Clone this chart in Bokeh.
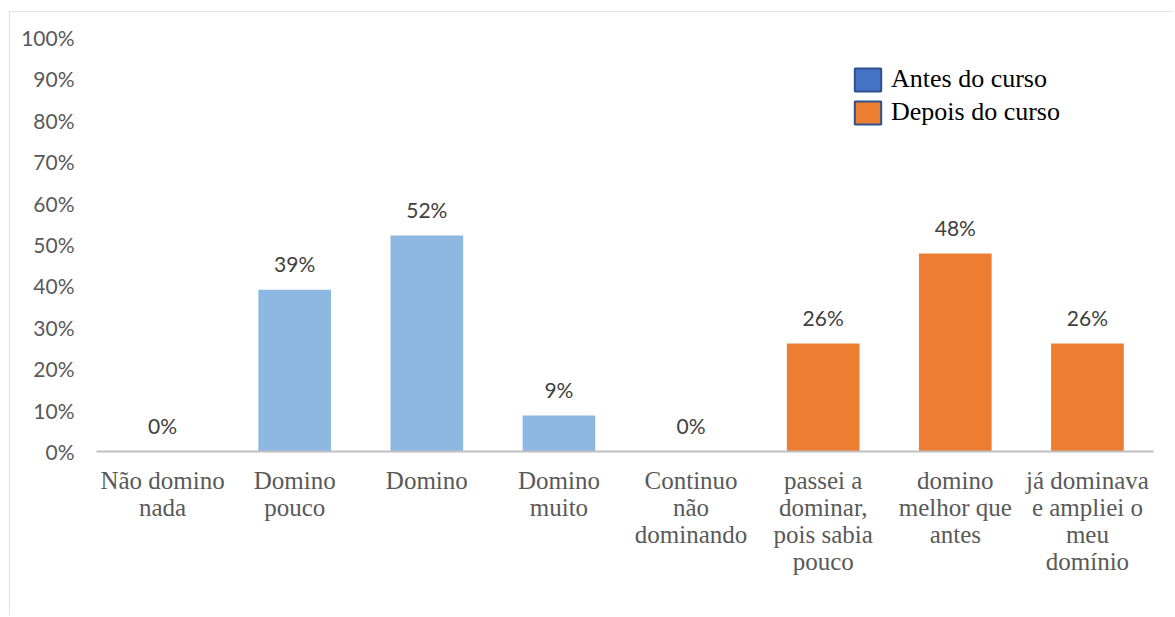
from bokeh.plotting import figure
from bokeh.models import ColumnDataSource, FixedTicker, Legend, LegendItem, NumeralTickFormatter
from bokeh.core.properties import value
from bokeh.embed import file_html
from bokeh.resources import INLINE

categories = [
    "Não domino\nnada",
    "Domino\npouco",
    "Domino",
    "Domino\nmuito",
    "Continuo\nnão\ndominando",
    "passei a\ndominar,\npois sabia\npouco",
    "domino\nmelhor que\nantes",
    "já dominava\ne ampliei o\nmeu\ndomínio",
]
values = [0.0, 0.391, 0.522, 0.087, 0.0, 0.261, 0.478, 0.261]
groups = ["Antes", "Antes", "Antes", "Antes", "Depois", "Depois", "Depois", "Depois"]
series_names = ["Antes do curso", "Depois do curso"]
y_ticks = [0, 0.1, 0.2, 0.3, 0.4, 0.5, 0.6, 0.7, 0.8, 0.9, 1.0]

bar_colors = {"Antes": "#8DB8E2", "Depois": "#ED7D31"}
legend_colors = ["#4472C4", "#ED7D31"]

labels = [f"{round(v * 100)}%" for v in values]
src = ColumnDataSource(dict(
    cat=categories, val=values, lab=labels,
    color=[bar_colors[g] for g in groups],
))

p = figure(
    x_range=categories, y_range=(0, 1.0),
    width=1164, height=604,
    output_backend="svg", toolbar_location=None,
    min_border_left=87, min_border_right=20, min_border_top=26, min_border_bottom=164,
)
p.styles = {"margin-left": "9px", "margin-top": "11px",
            "outline": "2px solid #D9D9D9", "outline-offset": "-2px"}
p.outline_line_color = None
p.xgrid.grid_line_color = None
p.ygrid.grid_line_color = None

p.vbar(x="cat", top="val", width=0.55, source=src, fill_color="color", line_color=None)

p.text(x="cat", y="val", text="lab", source=src, y_offset=-26,
       text_align="center", text_baseline="middle",
       text_font=value("Lato"), text_font_size="21px", text_color="#404040")

# y axis
p.yaxis.ticker = FixedTicker(ticks=y_ticks)
p.yaxis.formatter = NumeralTickFormatter(format="0%")
p.yaxis.axis_line_color = None
p.yaxis.major_tick_line_color = None
p.yaxis.minor_tick_line_color = None
p.yaxis.major_label_text_font = "Lato"
p.yaxis.major_label_text_font_size = "21px"
p.yaxis.major_label_text_color = "#595959"
p.yaxis.major_label_standoff = 16

# x axis
p.xaxis.axis_line_color = "#BFBFBF"
p.xaxis.axis_line_width = 2
p.xaxis.major_tick_line_color = None
p.xaxis.minor_tick_line_color = None
p.xaxis.major_label_text_font = "Liberation Serif"
p.xaxis.major_label_text_font_size = "25px"
p.xaxis.major_label_text_color = "#595959"
p.xaxis.major_label_text_line_height = 1.0
p.xaxis.major_label_standoff = 9
p.x_range.range_padding = 0.0

# legend: renderers whose single row is NaN, so only the legend swatch is drawn
nan = float("nan")
dummy = ColumnDataSource(dict(x=[categories[0]], top=[nan], bottom=[nan]))
r1 = p.vbar(x="x", top="top", bottom="bottom", width=0.5, source=dummy,
            fill_color=legend_colors[0], line_color="#2F528F", line_width=2)
r2 = p.vbar(x="x", top="top", bottom="bottom", width=0.5, source=dummy,
            fill_color=legend_colors[1], line_color="#2F528F", line_width=2)
legend = Legend(items=[LegendItem(label=series_names[0], renderers=[r1]),
                       LegendItem(label=series_names[1], renderers=[r2])],
                location=(755, 324))
legend.border_line_color = None
legend.background_fill_alpha = 0
legend.padding = 0
legend.margin = 0
legend.spacing = 3
legend.glyph_width = 33
legend.glyph_height = 29
legend.label_height = 29
legend.label_standoff = 7
legend.label_text_font = "Liberation Serif"
legend.label_text_font_size = "26px"
legend.label_text_color = "#000000"
legend.label_text_baseline = "middle"
p.add_layout(legend)

open("out.html", "w").write(file_html(p, INLINE))
